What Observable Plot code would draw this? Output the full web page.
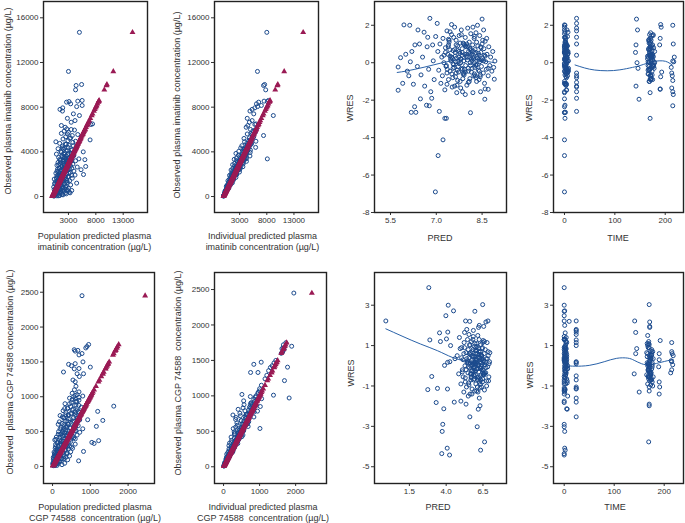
<!DOCTYPE html>
<html><head><meta charset="utf-8">
<script src="https://cdn.jsdelivr.net/npm/d3@7"></script>
<script src="https://cdn.jsdelivr.net/npm/@observablehq/plot@0.6"></script>
<style>
body{margin:0;background:#fff;}
#wrap{position:relative;width:685px;height:523px;overflow:hidden;font-family:"Liberation Sans",Arial,sans-serif;color:#333;}
.t{position:absolute;font-size:9px;white-space:pre;line-height:11px;text-align:center;color:#333;}
</style></head><body><div id="wrap"></div>
<script>
// ---------- Imatinib: observed / population predicted / individual predicted (µg/L)
const imObs = [30,60,90,120,150,180,210,240,270,300,330,360,390,420,450,480,510,540,570,600,630,660,690,720,750,780,810,850,900,950,1000,
1040,1080,1120,1160,1200,1240,1280,1320,1360,1400,1440,1480,1520,1560,1600,1640,1680,1720,1760,1800,1840,1880,1920,1970,2000,
2040,2080,2120,2160,2200,2240,2280,2320,2360,2400,2440,2480,2520,2560,2600,2640,2690,2720,2760,2800,2850,2900,2950,
3000,3050,3100,3150,3200,3250,3300,3370,3400,3450,3500,3560,3620,3680,3740,3800,3860,3920,4000,4050,4120,
4200,4280,4360,4440,4520,4600,4680,4760,4850,4900,5000,5070,5150,5250,5350,5460,5550,5650,5750,5850,5950,6050,
6200,6360,6450,6500,6650,6800,7000,7250,7400,7650,7800,7940,8050,8150,8300,8450,8540,8600,8500,9550,9940,10030,11200,14700,
70,130,190,260,320,380,440,500,560,620,680,740,800,860,920,980,1050,1110,1170,1230,
1290,1350,1410,1470,1530,1590,1650,1710,1770,1830,1890,1950,2010,2070,2130,2190,2250,2310,2370,2430,
2490,2550,2610,2670,2730,2790,2850,2910,2970,3030,3090,3150,3210,3270,3330,3390,3450,3510,3570,3630,
3700,3780,3860,3950,4050,4150,4250,4400,4550,4700,5200,5600,6000,4950,4350,3300,2600,1900,1200,500];
const imPred = [350,900,1400,250,2000,600,1100,2600,450,1700,3300,800,3150,1300,2200,550,1900,3600,1000,2800,400,1500,2400,700,3000,1200,2000,300,1700,2600,900,
3400,1400,500,2200,4500,1000,2800,1700,700,3200,2100,1200,2600,400,1800,3700,1100,2400,1500,3000,900,2000,4200,5750,1300,
2700,700,1900,3300,1200,2400,4000,1600,2900,5300,1000,2100,3600,1400,2500,4600,6150,1800,3100,900,2300,3800,1500,
2700,1100,3400,2000,4300,1500,6000,4900,2500,3200,1200,2200,3900,1800,2900,800,3500,2300,5700,1600,2800,
3700,1100,2300,4400,1900,3100,2600,1400,3800,700,2900,6950,2000,3400,2500,3700,4700,1700,3000,2200,4100,2700,
2400,1700,7100,7400,3500,4200,2800,5000,3900,1900,1450,1950,4500,5500,3400,2650,4700,5500,3100,4300,4400,5400,3000,5000,
1200,600,1800,900,2400,500,1600,1000,2100,1300,700,1900,1100,2500,800,1500,1700,2300,900,1400,
2000,1000,2700,1600,1200,2200,800,1900,2900,1400,2500,1100,1800,3100,1500,2200,900,2600,1700,3200,
2000,1300,2800,1800,3400,2300,1200,2700,2000,3000,1600,2500,3600,2100,1400,2900,2300,3300,1900,2600,
4000,2200,3000,1700,2600,3500,2100,2900,3900,2400,3200,2800,3500,4300,1900,2600,2200,3600,500,2900];
const imIpred = [40,70,100,110,160,200,190,250,300,320,360,340,430,470,420,500,560,600,530,650,600,720,640,780,810,740,880,760,970,900,1080,
1150,1000,1050,1250,1300,1150,1400,1230,1250,1550,1350,1600,1450,1350,1700,1800,1550,1850,1650,1950,1600,2050,1800,2300,1900,
2200,1850,2300,2050,2000,2450,2600,2150,2550,2700,2200,2700,2400,2800,2350,2900,3100,2500,3000,2550,3100,2700,3200,
2800,3300,2900,3450,3000,3600,3800,8100,3100,3800,3300,3950,3400,3700,4100,3500,4200,3600,4300,3800,4500,
3900,4000,4700,4200,4800,4400,5000,4300,5200,3900,4700,4900,5300,4800,5600,7400,5300,5100,5900,5400,5800,6100,
4200,4500,5800,6000,4800,5300,4400,9200,5600,4900,5300,5800,6300,7000,6100,6500,7500,8300,8100,7800,7400,7600,6280,8000,
50,155,160,350,240,420,265,625,390,745,580,1000,600,945,550,1225,735,1330,995,1660,
970,1485,845,1840,1070,1910,1400,2310,1330,2010,1135,2440,1410,2480,1810,2960,1690,2540,1420,3040,
1740,3060,2220,3600,2050,3070,1710,3640,2080,3640,2630,4250,2410,3600,2000,4240,2420,4210,3030,4900,
2780,4160,2320,4940,2840,4980,3610,5940,3410,5170,3800,4400,5000,6000,3200,3900,3100,1500,1450,400];

// ---------- CGP 74588: observed / population predicted / individual predicted (µg/L)
const cgObs = [10,20,30,40,50,60,70,80,80,90,100,110,120,130,140,150,150,160,170,180,190,200,200,215,220,230,240,250,260,260,
270,280,290,300,310,320,330,340,345,350,360,370,380,390,400,410,420,430,440,450,460,470,480,490,500,510,520,530,540,550,
560,575,580,590,600,620,640,660,670,680,700,710,730,740,760,780,790,800,820,840,865,880,900,920,950,970,980,1000,1010,1030,
1050,1070,1100,1150,1215,1240,1290,1330,1330,1355,1400,1405,1425,1445,1465,1475,1500,1600,1620,1655,1665,1675,1700,1720,1750,2450,
25,45,65,95,130,175,210,235,285,315,355,395,445,505,555,610,650,690,750,810,860,935,15,55,
12,28,42,58,72,88,105,118,135,148,162,178,192,205,222,238,252,268,282,298,
312,328,342,358,372,388,402,418,432,448,462,478,492,508,522,538,552,568,585,602,
618,635,652,668,685,702,720,738,755,772,790,810,830,850,875,900,930,960,990,1020,
35,65,110,155,200,245,290,335,380,425,470,515,560,605,650,695,740,785,830,875];
const cgPred = [20,80,40,150,10,100,200,30,690,120,60,250,180,20,300,90,450,220,140,380,60,270,160,820,110,330,190,420,70,530,
250,500,150,350,230,600,1100,120,1040,420,280,1220,190,480,330,560,100,380,260,650,200,450,320,720,160,410,550,290,800,470,
230,1160,380,620,300,500,180,1330,930,420,560,260,200,350,480,700,1195,280,550,400,1620,620,330,500,700,600,450,560,800,650,
520,700,580,620,600,540,710,650,820,290,575,700,1000,500,425,600,805,700,780,600,670,575,880,910,955,780,
250,320,180,400,350,50,480,140,380,80,220,600,360,280,600,420,330,650,600,650,480,620,120,60,
60,15,110,40,170,80,20,230,130,60,290,100,210,40,160,350,120,260,80,400,
190,300,140,480,240,90,360,200,540,310,150,420,260,600,350,200,480,300,680,410,
250,540,380,720,460,300,620,420,500,350,680,520,400,760,580,450,640,520,700,600,
10,140,300,50,380,120,450,200,60,500,240,620,360,150,560,300,420,600,320,700];
const cgIpred = [15,30,25,50,40,70,60,85,100,80,110,130,100,120,160,140,120,150,190,170,200,180,230,260,200,250,220,270,240,230,
300,260,310,280,340,300,350,320,370,380,330,400,350,420,370,450,380,400,470,420,430,500,450,520,460,540,480,560,1010,520,
500,600,560,620,540,650,560,690,700,620,720,600,260,640,700,760,820,700,780,720,900,800,760,860,840,1820,880,900,1385,950,
960,1000,1000,1050,1690,1150,1200,750,955,1250,1300,1775,1350,840,1400,1045,1450,1600,1640,1680,1620,1650,1890,1660,1730,1950,
20,55,60,90,150,160,200,250,290,300,360,390,430,490,560,600,640,680,740,790,850,900,10,60,
7,31,32,29,65,106,68,100,81,163,122,89,173,246,144,202,151,295,212,149,
281,394,222,304,223,427,302,209,389,538,300,406,295,559,392,269,497,682,380,512,
371,699,489,334,617,842,468,627,453,849,593,405,747,1020,569,765,558,1056,743,510,
32,78,72,132,120,270,218,168,342,510,306,438,336,666,488,348,666,942,540,744];

// ---------- Imatinib residuals: WRES, PRED, TIME
const imPredL = [5.75,5.75,5.83,5.94,6.13,6.00,6.05,6.10,6.18,6.29,6.33,6.20,6.25,6.30,6.38,6.45,6.48,6.40,6.50,6.55,
6.60,6.62,6.68,6.70,6.72,6.75,6.77,6.79,6.82,6.85,6.88,6.90,6.93,6.97,6.98,5.90,6.15,
7.03,7.06,7.10,7.22,7.28,7.33,7.50,8.12,8.50,8.59,8.70,8.90,8.92,7.05,7.08,7.12,7.15,7.18,7.20,7.22,
7.25,7.28,7.30,7.32,7.35,7.38,7.40,7.42,7.45,7.47,7.50,7.52,7.55,7.57,7.60,7.62,7.63,7.65,7.67,7.70,
7.71,7.73,7.75,7.77,7.78,7.80,7.82,7.83,7.85,7.86,7.88,7.90,7.91,7.93,7.95,7.96,7.98,8.00,8.01,8.03,
8.05,8.06,8.08,8.10,8.11,8.13,8.15,8.17,8.19,8.20,8.22,8.24,8.25,8.27,8.29,8.30,8.32,8.34,8.36,8.38,
8.40,8.42,8.44,8.46,8.48,8.50,8.52,8.54,8.56,8.58,8.60,8.62,8.64,8.66,8.70,8.72,8.75,8.78,8.82,8.85,
8.88,8.60,8.45,8.20,7.95,8.35,7.60,7.70,8.05,7.40,7.85,8.25,7.55,8.15,8.40,7.65,7.90,8.30,7.80,8.55,
7.45,8.65,7.75,7.35,8.10,
7.30,7.36,7.42,7.48,7.54,7.60,7.66,7.72,7.78,7.84,7.90,7.96,8.02,8.08,8.14,8.20,8.26,8.32,8.38,8.44,
7.33,7.39,7.45,7.51,7.57,7.63,7.69,7.75,7.81,7.87,7.93,7.99,8.05,8.11,8.17,8.23,8.29,8.35,8.41,8.47,
7.25,7.40,7.55,7.70,7.85,8.00,8.15,8.30,8.45,8.60,7.35,7.50,7.65,7.80,7.95,8.10,8.25,8.40,8.55,8.70,
7.44,7.58,7.74,7.88,8.04,8.18,8.34,8.48,7.62,7.92,8.22,8.52,7.52,7.82,8.12,8.42,7.68,7.98,8.28,8.58];
const imWres = [-1.47,-0.23,0.27,2.02,2.00,0.45,-0.45,-0.70,-2.65,-2.35,-2.65,0.60,-1.15,0.95,-0.20,1.00,-1.93,1.75,-0.65,0.30,
1.63,-1.25,-2.27,0.85,1.36,-0.35,-2.30,2.37,-1.55,-1.90,0.95,0.10,-0.90,-6.90,1.40,-1.10,0.05,
2.10,-4.96,-2.60,-4.12,-2.97,-2.97,2.04,-2.67,2.33,-1.95,-1.42,-0.88,0.09,0.60,-0.40,1.00,-1.10,0.30,-0.70,1.30,
0.00,-1.45,0.80,-0.20,1.70,0.45,-0.90,1.10,-0.45,0.20,1.50,-1.30,0.65,-0.10,1.90,0.35,-0.75,1.20,-1.60,0.90,
0.05,-0.50,1.45,0.50,-1.00,0.20,1.75,-0.30,0.75,-1.55,1.05,0.10,-0.65,0.45,1.35,-0.15,0.85,-1.20,0.30,1.85,
-0.45,0.60,1.10,-0.85,0.00,1.55,0.40,-0.30,0.95,-1.60,0.20,1.30,-0.60,0.70,-0.10,1.60,-1.00,0.35,0.90,-0.40,
0.15,1.45,-0.75,0.55,-0.20,1.00,0.25,-0.55,0.75,-1.10,1.15,0.05,-0.35,0.45,-0.70,0.85,-0.15,0.30,-0.45,0.60,
-0.25,-1.40,-1.55,1.90,-1.70,2.00,-1.25,-0.95,-1.05,0.95,0.55,0.00,-0.30,-0.50,0.40,-0.55,1.00,-0.80,-1.35,1.75,
1.65,1.30,-0.05,-0.55,0.75,
0.55,-0.35,1.20,0.10,-0.80,0.70,0.25,-0.20,1.05,0.40,-0.55,0.90,0.15,-1.00,0.65,0.30,-0.25,1.10,0.50,-0.65,
-0.15,0.85,0.35,-0.60,1.35,0.05,-0.40,0.60,0.20,-0.85,0.95,0.45,-0.30,0.75,0.10,-0.70,0.55,0.25,-0.45,0.80,
0.40,1.25,-0.05,0.65,-0.35,1.00,0.20,-0.15,0.85,0.35,-1.15,0.30,0.95,0.00,-0.50,0.50,1.40,-0.90,0.10,-0.30,
0.70,-0.25,0.30,-0.60,0.85,0.45,-0.10,0.15,0.55,-0.35,0.60,1.20,0.25,1.50,-0.15,0.05,-1.20,0.35,-0.70,0.40];
const imTime = [4,3,5,0,215,1,6,24,2,0,0,7,1,3,168,2,0,5,1,172,
7,24,1,0,24,4,215,24,0,24,142,2,175,0,6,3,166,
24,0,24,0,170,1,191,0,143,148,190,170,215,1,166,3,0,5,170,2,
168,4,174,0,24,6,171,1,8,165,169,24,2,177,0,173,3,167,0,5,
172,1,176,7,169,2,145,178,0,24,168,4,171,6,1,174,170,3,166,24,
0,179,2,172,5,0,168,8,175,170,1,190,4,167,3,171,0,176,6,169,
2,173,191,0,177,216,5,213,170,1,168,217,7,172,214,3,166,218,174,0,
212,190,215,192,216,1,142,215,24,189,141,144,146,193,24,24,24,24,213,0,
1,171,0,2,4,
0,167,2,172,4,169,1,175,3,170,6,173,0,168,5,176,2,171,7,174,
1,170,3,166,0,178,5,169,2,172,4,175,1,167,6,171,0,173,3,177,
2,168,0,174,5,170,1,176,3,165,4,171,0,179,6,169,2,172,8,170,
1,173,4,167,0,171,3,175,2,169,5,172,1,176,0,168,3,170,6,174];

// ---------- CGP 74588 residuals: WRES, PRED, TIME
const cgPredL = [-0.10,2.82,4.14,4.50,3.98,2.89,3.55,4.11,3.61,4.02,4.30,3.02,2.75,3.41,4.09,3.32,3.84,4.55,3.77,3.73,
3.70,4.07,4.23,3.89,4.10,4.25,5.61,6.11,6.34,6.61,6.18,6.30,6.48,5.95,5.32,5.60,6.70,6.84,6.20,6.25,
5.40,5.55,4.75,4.85,4.90,5.00,5.05,5.10,5.15,5.20,5.22,5.28,5.30,5.35,5.38,5.42,5.45,5.48,5.50,5.53,
5.55,5.58,5.60,5.62,5.65,5.67,5.70,5.72,5.74,5.76,5.78,5.80,5.82,5.84,5.86,5.88,5.90,5.92,5.94,5.96,
5.98,6.00,6.02,6.04,6.06,6.08,6.10,6.12,6.14,6.16,6.18,6.20,6.22,6.24,6.26,6.28,6.30,6.32,6.34,6.36,
6.38,6.40,6.42,6.44,6.46,6.48,6.50,6.52,6.55,6.58,6.60,6.63,6.66,6.69,6.72,6.75,6.78,6.82,6.86,6.90,
6.95,5.50,5.85,6.15,5.25,4.95,5.65,6.05,6.40,5.75,6.00,5.90,6.35,5.45,6.25,5.35,6.55,4.60,5.00,
5.05,5.15,5.25,5.35,5.45,5.55,5.65,5.75,5.85,5.95,6.05,6.15,6.25,6.35,6.45,6.55,6.65,6.75,6.85,6.92,
5.10,5.20,5.30,5.40,5.50,5.60,5.70,5.80,5.90,6.00,6.10,6.20,6.30,6.40,6.50,6.60,6.70,6.80,6.88,6.97,
5.63,5.73,5.83,5.93,6.03,6.13,6.23,6.33,6.43,6.53,5.68,5.78,5.88,5.98,6.08,6.18,6.28,6.38,6.48,6.58,
5.57,5.87,6.17,6.47,5.72,6.02,6.32,6.62,5.82,6.12,6.42,5.97,6.27,6.57,5.92,6.22,6.52,5.77,6.07,6.37];
const cgWres = [2.22,3.87,3.00,2.72,2.48,1.28,1.63,1.67,1.20,1.33,1.00,-0.53,-1.18,-1.12,-1.15,-1.82,-2.13,-1.80,-2.90,-3.25,
-4.35,-4.08,-4.42,0.02,0.17,0.20,-2.53,-3.02,-4.18,-3.77,-2.15,-1.98,3.03,2.70,2.22,2.20,2.17,2.22,1.90,2.00,
1.80,1.55,0.50,-0.40,1.40,-0.90,0.90,-0.20,0.30,-1.30,1.15,0.00,-0.60,0.65,-1.05,0.15,1.30,-0.35,0.80,-0.85,
0.40,-0.10,1.00,-1.40,0.55,0.00,-0.55,1.20,0.25,-1.15,0.70,-0.25,0.05,1.45,-0.70,0.45,-0.05,0.95,-1.25,0.20,
-0.45,0.75,-0.90,0.35,-0.15,1.10,0.10,-0.60,0.60,-1.30,0.00,0.85,-0.30,1.30,-0.80,0.40,-0.10,0.70,-0.50,1.05,
0.15,-1.05,0.50,-0.20,0.90,-0.65,0.25,1.25,-0.40,0.60,-1.20,0.05,0.80,-0.35,0.35,-0.75,1.15,-0.05,0.50,-0.55,
0.20,-1.50,1.75,1.50,1.65,0.85,-0.40,0.60,0.30,-1.40,0.10,-0.50,-0.70,0.20,-1.60,-1.90,1.95,0.35,-1.75,
0.40,-0.55,0.90,-0.20,0.25,-0.95,0.65,0.05,-0.45,1.10,0.30,-0.70,0.55,-0.15,0.85,-0.40,0.20,-1.00,0.70,0.10,
-0.30,0.60,-0.80,0.35,-0.05,1.05,-0.60,0.45,0.15,-0.25,0.95,0.05,-1.10,0.50,-0.35,1.20,-0.10,0.35,-0.75,0.65,
0.15,-0.40,0.80,-0.65,0.25,-0.15,0.55,-0.90,0.35,-0.20,-0.70,0.50,-0.30,0.10,0.75,-0.55,0.30,-0.05,1.15,-0.45,
0.60,-0.10,0.40,-0.80,-0.25,0.90,0.20,-0.35,1.30,-1.05,0.05,0.45,-0.60,0.25,-0.15,0.70,-0.45,0.15,-1.25,0.55];
const cgTime = [0,0,0,1,0,24,2,24,3,1,24,0,2,24,1,0,5,24,0,1,
0,1,0,2,24,3,24,0,2,169,6,170,170,0,141,10,171,24,171,1,
24,24,2,1,4,3,0,168,5,150,24,7,172,1,24,166,2,174,0,6,
170,3,167,0,175,1,169,4,171,24,177,2,168,0,173,5,176,1,170,3,
165,172,0,178,7,169,2,174,190,1,167,4,171,0,190,173,6,215,168,3,
176,191,1,215,170,5,214,192,172,216,0,217,175,213,2,171,215,189,218,168,
215,7,24,167,143,145,140,143,190,190,24,24,24,24,24,170,171,0,0,
0,170,2,168,1,173,4,171,3,166,0,175,5,169,2,172,1,177,3,170,
2,167,0,174,3,170,1,172,5,168,2,176,0,171,4,169,1,173,6,165,
1,172,3,169,0,175,2,167,4,171,0,174,3,168,1,178,2,170,5,173,
0,171,2,176,1,168,3,173,0,170,4,166,2,172,1,175,3,169,0,174];

// ---------- Smoothed trend lines
const imPredSmX = [5.72,6.0,6.3,6.6,6.9,7.2,7.5,7.8,8.1,8.4,8.7,8.9];
const imPredSmY = [-0.52,-0.45,-0.35,-0.24,-0.12,0.0,0.1,0.18,0.2,0.15,0.06,0.0];
const imTimeSmX = [21,40,60,85,110,135,150,165,180,195,205,214];
const imTimeSmY = [-0.12,-0.28,-0.39,-0.43,-0.38,-0.25,-0.15,-0.02,0.08,0.1,0.03,-0.12];
const cgPredSmX = [-0.1,1.0,2.25,3.4,4.4,5.2,6.0,6.8];
const cgPredSmY = [1.83,1.47,1.08,0.75,0.42,0.25,0.12,0.05];
const cgTimeSmX = [5,22,50,80,105,127,140,155,170,190,210,218];
const cgTimeSmY = [0.0,-0.02,0.02,0.2,0.37,0.38,0.27,0.1,0.05,0.15,0.27,0.3];

// ---------- Tick values
const imConcTicksX = [3000,8000,13000];
const imConcTicksY = [0,4000,8000,12000,16000];
const cgConcTicks = [0,1000,2000];
const cgConcTicksY = [0,500,1000,1500,2000,2500];
const imPredTicks = [5.5,7.0,8.5];
const imWresTicks = [-8,-6,-4,-2,0,2];
const timeTicks = [0,100,200];
const cgPredTicks = [1.5,4.0,6.5];
const cgWresTicks = [-5,-3,-1,1,3];

const wrap = document.getElementById("wrap");
const BLUE = "#1b4a8d", RED = "#9a1a54";

function panel(c) {
  const [L, T, R, B] = c.frame;
  const ml = 36, mr = 6, mt = 6, mb = 20;
  const marks = [];
  if (c.sx) {
    const si = d3.range(c.sx.length);
    marks.push(Plot.line(si, {x: i => c.sx[i], y: i => c.sy[i], stroke: "#2a62a8", strokeWidth: 1, curve: "natural"}));
  }
  const idx = d3.range(c.x.length);
  marks.push(Plot.dot(idx, {x: i => c.x[i], y: i => c.y[i], r: 2, stroke: BLUE, strokeWidth: 1, fill: "none"}));
  if (c.tri) {
    const ti = d3.range(c.tri.length);
    marks.push(Plot.dot(ti, {x: i => c.tri[i], y: i => c.tri[i], symbol: "triangle", r: 2.2, fill: RED, stroke: "none"}));
  }
  marks.push(Plot.frame({stroke: "#222", strokeWidth: 1.4}));
  const svg = Plot.plot({
    width: R - L + ml + mr, height: B - T + mt + mb,
    marginLeft: ml, marginRight: mr, marginTop: mt, marginBottom: mb,
    style: {fontFamily: '"Liberation Sans", Arial, sans-serif', fontSize: "8px", color: "#333", background: "transparent", overflow: "visible"},
    x: {domain: c.xd, ticks: c.xt, tickFormat: c.xf || (d => String(d)), tickSize: 3, tickPadding: 2, label: null},
    y: {domain: c.yd, ticks: c.yt, tickFormat: d => String(d), tickSize: 3, tickPadding: 2, label: null},
    marks
  });
  svg.style.position = "absolute";
  svg.style.left = (L - ml) + "px";
  svg.style.top = (T - mt) + "px";
  svg.style.maxWidth = "none";
  wrap.appendChild(svg);
}
function label(text, x, y, rot) {
  const d = document.createElement("div");
  d.className = "t";
  d.textContent = text;
  d.style.left = x + "px";
  d.style.top = y + "px";
  d.style.transform = rot ? "translate(-50%,-50%) rotate(-90deg)" : "translate(-50%,-50%)";
  wrap.appendChild(d);
}
const f1 = d3.format(".1f");

panel({frame: [43, 1, 147, 212], xd: [-1560, 17440], yd: [-1430, 17460], xt: imConcTicksX, yt: imConcTicksY, x: imPred, y: imObs, tri: imObs});
panel({frame: [214, 1, 318, 212], xd: [-1630, 17520], yd: [-1430, 17460], xt: imConcTicksX, yt: imConcTicksY, x: imIpred, y: imObs, tri: imObs});
panel({frame: [374, 1, 506, 212], xd: [4.976, 9.30], yd: [-8, 3.27], xt: imPredTicks, xf: f1, yt: imWresTicks, x: imPredL, y: imWres, sx: imPredSmX, sy: imPredSmY});
panel({frame: [553, 1, 683, 212], xd: [-21.8, 236.3], yd: [-8, 3.27], xt: timeTicks, yt: imWresTicks, x: imTime, y: imWres, sx: imTimeSmX, sy: imTimeSmY});
panel({frame: [43, 272, 154, 483], xd: [-239, 2698], yd: [-245, 2783], xt: cgConcTicks, yt: cgConcTicksY, x: cgPred, y: cgObs, tri: cgObs});
panel({frame: [214, 272, 326, 483], xd: [-251, 2856], yd: [-236, 2740], xt: cgConcTicks, yt: cgConcTicksY, x: cgIpred, y: cgObs, tri: cgObs});
panel({frame: [374, 272, 506, 483], xd: [-0.87, 8.1], yd: [-5.83, 4.62], xt: cgPredTicks, xf: f1, yt: cgWresTicks, x: cgPredL, y: cgWres, sx: cgPredSmX, sy: cgPredSmY});
panel({frame: [553, 272, 683, 483], xd: [-21.4, 238.6], yd: [-5.83, 4.62], xt: timeTicks, yt: cgWresTicks, x: cgTime, y: cgWres, sx: cgTimeSmX, sy: cgTimeSmY});

label("Observed plasma imatinib concentration (µg/L)", 8, 101, true);
label("Observed plasma imatinib concentration (µg/L)", 177, 105, true);
label("WRES", 350, 108, true);
label("WRES", 529, 108, true);
label("Population predicted plasma\nimatinib concentration (µg/L)", 94.5, 241.5);
label("Individual predicted plasma\nimatinib concentration (µg/L)", 262.5, 241.5);
label("PRED", 440, 238);
label("TIME", 618, 238);
label("Observed  plasma CGP 74588 concentration (µg/L)", 10, 372, true);
label("Observed plasma CGP 74588  concentration (µg/L)", 178, 373, true);
label("WRES", 351, 373, true);
label("WRES", 530, 375, true);
label("Population predicted plasma\nCGP 74588  concentration (µg/L)", 95, 512.5);
label("Individual predicted plasma\nCGP 74588  concentration (µg/L)", 263, 512.5);
label("PRED", 438, 507);
label("TIME", 615, 507);
</script>
</body></html>
